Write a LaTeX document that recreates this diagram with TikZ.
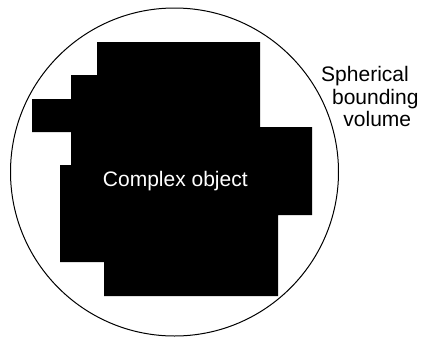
\documentclass[tikz,border=0pt]{standalone}
\usepackage{fontspec}
\setmainfont{Liberation Sans}
\begin{document}
\begin{tikzpicture}[x=1pt,y=-1pt,
  lbl/.style={font=\fontsize{21}{22.5}\selectfont, inner sep=0pt, anchor=base},
  bvol/.style={draw=black, line width=1pt},
  obj/.style={fill=black, draw=none}]
\useasboundingbox (0,0) rectangle (421,338);
\node[bvol, circle, minimum size=328pt, inner sep=0pt] (sphere) at (174.5,172) {};
\fill[obj] (97,42) -- (260,42) -- (260,127) -- (312,127) -- (312,215) -- (278,215)
  -- (278,296) -- (104,296) -- (104,262) -- (60,262) -- (60,165) -- (71,165)
  -- (71,132) -- (32,132) -- (32,99) -- (71,99) -- (71,75) -- (97,75) -- cycle;
\node[lbl, text=white] (obj) at (175.3,186.7) {Complex object};
\node[lbl] (s1) at (365,81.7) {Spherical};
\node[lbl] (s2) at (375.3,104) {bounding};
\node[lbl] (s3) at (377.3,126.7) {volume};
\end{tikzpicture}
\end{document}
